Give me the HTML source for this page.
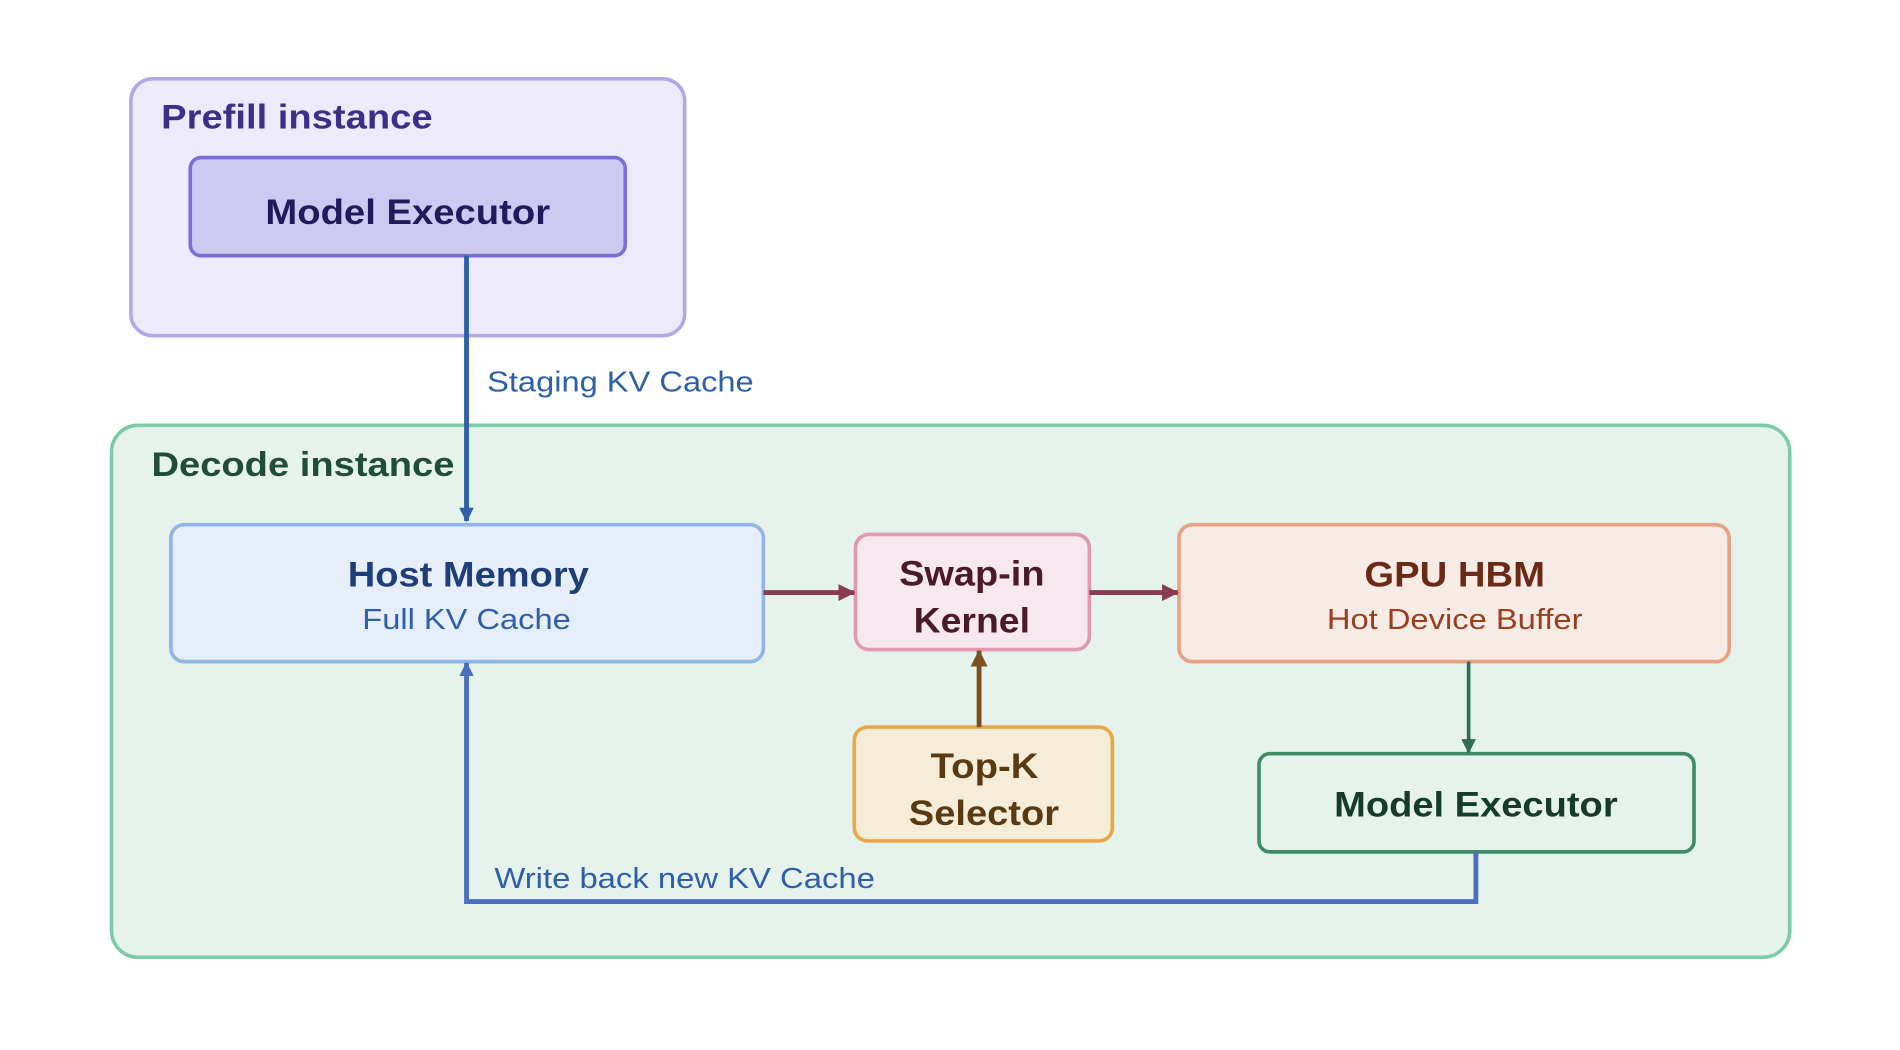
<!DOCTYPE html>
<html><head><meta charset="utf-8"><style>
html,body{margin:0;padding:0;background:#fff;}
svg{display:block;}
text{font-family:"Liberation Sans",sans-serif;}
</style></head><body>
<svg width="1900" height="1050" viewBox="0 0 1568 866.5" preserveAspectRatio="none" xmlns="http://www.w3.org/2000/svg">
<defs>
<marker id="mb" markerWidth="12" markerHeight="14" refX="11" refY="6" orient="auto" markerUnits="userSpaceOnUse"><path d="M0,0 L12,6 L0,12 z" fill="#2f5fa8"/></marker>
<marker id="mb2" markerWidth="12" markerHeight="14" refX="11" refY="6" orient="auto" markerUnits="userSpaceOnUse"><path d="M0,0 L12,6 L0,12 z" fill="#4a6fc0"/></marker>
<marker id="mm" markerWidth="14" markerHeight="14" refX="13" refY="7" orient="auto" markerUnits="userSpaceOnUse"><path d="M0,0 L14,7 L0,14 z" fill="#8a3a52"/></marker>
<marker id="mo" markerWidth="14" markerHeight="14" refX="13" refY="7" orient="auto" markerUnits="userSpaceOnUse"><path d="M0,0 L14,7 L0,14 z" fill="#7a5020"/></marker>
<marker id="mg" markerWidth="12" markerHeight="12" refX="11" refY="6" orient="auto" markerUnits="userSpaceOnUse"><path d="M0,0 L12,6 L0,12 z" fill="#2f6e55"/></marker>
</defs>
<rect x="108" y="65" width="457" height="212" rx="18" fill="#edebfb" stroke="#b3a9e8" stroke-width="3"/>
<text x="133" y="106" font-size="28" font-weight="bold" fill="#3c2f8a" textLength="224" lengthAdjust="spacingAndGlyphs">Prefill instance</text>
<rect x="157" y="130" width="359" height="81" rx="9" fill="#cdc9f1" stroke="#7b6fd6" stroke-width="3"/>
<text x="219" y="185" font-size="29" font-weight="bold" fill="#221a5a" textLength="235" lengthAdjust="spacingAndGlyphs">Model Executor</text>

<rect x="92" y="351" width="1385" height="439" rx="22" fill="#e5f3ec" stroke="#7ccaa8" stroke-width="3"/>
<text x="125" y="393" font-size="28" font-weight="bold" fill="#1f4d3a" textLength="250" lengthAdjust="spacingAndGlyphs">Decode instance</text>

<line x1="385" y1="211" x2="385" y2="430" stroke="#2f5fa8" stroke-width="4" marker-end="url(#mb)"/>
<text x="402" y="323" font-size="24" fill="#2f5fa8" textLength="220" lengthAdjust="spacingAndGlyphs">Staging KV Cache</text>

<rect x="141" y="433" width="489" height="113" rx="11" fill="#e6eff9" stroke="#8fb6e6" stroke-width="3"/>
<text x="287" y="484" font-size="29" font-weight="bold" fill="#1f3d78" textLength="199" lengthAdjust="spacingAndGlyphs">Host Memory</text>
<text x="299" y="519" font-size="24" fill="#2f5fa8" textLength="172" lengthAdjust="spacingAndGlyphs">Full KV Cache</text>

<rect x="706" y="441" width="193" height="95" rx="11" fill="#f6e8ee" stroke="#e197b0" stroke-width="3"/>
<text x="742" y="483" font-size="29" font-weight="bold" fill="#4a1a28" textLength="120" lengthAdjust="spacingAndGlyphs">Swap-in</text>
<text x="754" y="522" font-size="29" font-weight="bold" fill="#4a1a28" textLength="96" lengthAdjust="spacingAndGlyphs">Kernel</text>

<rect x="973" y="433" width="454" height="113" rx="11" fill="#f7ebe6" stroke="#e8a283" stroke-width="3"/>
<text x="1126" y="484" font-size="29" font-weight="bold" fill="#6b2a15" textLength="149" lengthAdjust="spacingAndGlyphs">GPU HBM</text>
<text x="1095" y="519" font-size="24" fill="#9a3e20" textLength="211" lengthAdjust="spacingAndGlyphs">Hot Device Buffer</text>

<rect x="705" y="600" width="213" height="94" rx="11" fill="#f6edd8" stroke="#e6aa48" stroke-width="3"/>
<text x="768" y="642" font-size="29" font-weight="bold" fill="#5a3a12" textLength="89" lengthAdjust="spacingAndGlyphs">Top-K</text>
<text x="750" y="681" font-size="29" font-weight="bold" fill="#5a3a12" textLength="124" lengthAdjust="spacingAndGlyphs">Selector</text>

<rect x="1039" y="622" width="359" height="81" rx="9" fill="#e5f3ec" stroke="#3f8c68" stroke-width="3"/>
<text x="1101" y="674" font-size="29" font-weight="bold" fill="#163a2c" textLength="234" lengthAdjust="spacingAndGlyphs">Model Executor</text>

<line x1="630" y1="489" x2="705" y2="489" stroke="#8a3a52" stroke-width="4" marker-end="url(#mm)"/>
<line x1="899" y1="489" x2="972" y2="489" stroke="#8a3a52" stroke-width="4" marker-end="url(#mm)"/>
<line x1="808" y1="600" x2="808" y2="537" stroke="#7a5020" stroke-width="4" marker-end="url(#mo)"/>
<line x1="1212" y1="546" x2="1212" y2="621" stroke="#2f6e55" stroke-width="3" marker-end="url(#mg)"/>
<polyline points="1218,703 1218,744 385,744 385,547" fill="none" stroke="#4a6fc0" stroke-width="4" marker-end="url(#mb2)"/>
<text x="408" y="733" font-size="24" fill="#2f5fa8" textLength="314" lengthAdjust="spacingAndGlyphs">Write back new KV Cache</text>
</svg>
</body></html>
